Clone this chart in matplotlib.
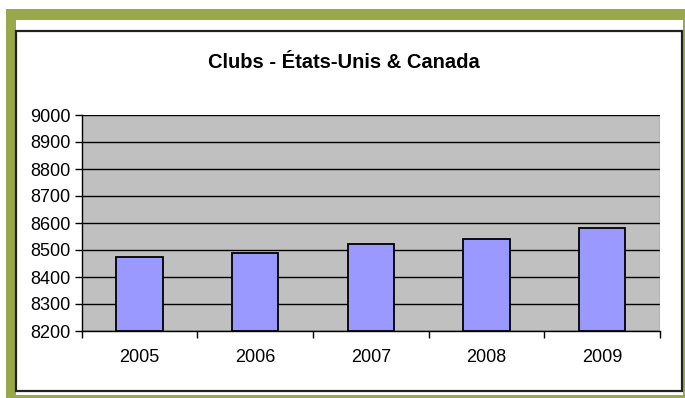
import matplotlib
matplotlib.use("Agg")
import matplotlib.pyplot as plt
from matplotlib.patches import Rectangle

plt.rcParams['font.family'] = ['Liberation Sans', 'DejaVu Sans']

years = ["2005", "2006", "2007", "2008", "2009"]
clubs = [8475, 8490, 8522, 8542, 8580]
y_ticks = [8200, 8300, 8400, 8500, 8600, 8700, 8800, 8900, 9000]
title = "Clubs - États-Unis & Canada"

W, H = 685, 398
fig = plt.figure(figsize=(W / 100, H / 100), dpi=100)
fig.patch.set_facecolor("white")

green = "#98A84A"

def px_rect(x0, y0, x1, y1, **kw):
    # rectangle given in pixel coordinates (origin top-left)
    r = Rectangle((x0 / W, 1 - y1 / H), (x1 - x0) / W, (y1 - y0) / H,
                  transform=fig.transFigure, **kw)
    fig.patches.append(r)
    return r

# green outer frame
px_rect(6, 9, 685, 20, facecolor=green, edgecolor="none")
px_rect(6, 9, 16, 398, facecolor=green, edgecolor="none")
px_rect(6, 395, 685, 398, facecolor=green, edgecolor="none")
px_rect(683, 9, 685, 398, facecolor=green, edgecolor="none")

# chart area border
px_rect(16, 31, 681.5, 390.5, facecolor="none", edgecolor="#222222", linewidth=1.6)

ax = fig.add_axes([81.7 / W, 1 - 331 / H, (660 - 81.7) / W, (331 - 115) / H])
ax.set_facecolor("#C0C0C0")

x = range(len(years))
ax.bar(x, [v - y_ticks[0] for v in clubs], bottom=y_ticks[0], width=0.4,
       color="#9999FF", edgecolor="black", linewidth=1.3, zorder=3)

ax.set_xlim(-0.5, len(years) - 0.5)
ax.set_ylim(y_ticks[0], y_ticks[-1])
ax.set_yticks(y_ticks)
ax.set_yticklabels([str(t) for t in y_ticks], fontsize=13)
ax.yaxis.grid(True, color="black", linewidth=1.0, zorder=1)
ax.set_axisbelow(True)

ax.set_xticks(list(x))
ax.set_xticklabels(years, fontsize=13)
ax.tick_params(axis="x", length=0, pad=13)
ax.set_xticks([i - 0.5 for i in range(len(years) + 1)], minor=True)
ax.tick_params(axis="x", which="minor", length=5, width=1, color="black", direction="out")
ax.tick_params(axis="y", length=5, width=1, color="black", direction="out", pad=3)

for side in ["top", "right"]:
    ax.spines[side].set_visible(False)
ax.spines["left"].set_color("black")
ax.spines["left"].set_linewidth(1.0)
ax.spines["bottom"].set_color("black")
ax.spines["bottom"].set_linewidth(1.0)

# right edge of the plot area
ax.axvline(len(years) - 0.5, color="#808080", linewidth=1.0, zorder=2)

fig.text(344 / W, 1 - 63 / H, title, ha="center", va="center",
         fontsize=14.5, fontweight="bold")

fig.savefig("out.png", dpi=100)
